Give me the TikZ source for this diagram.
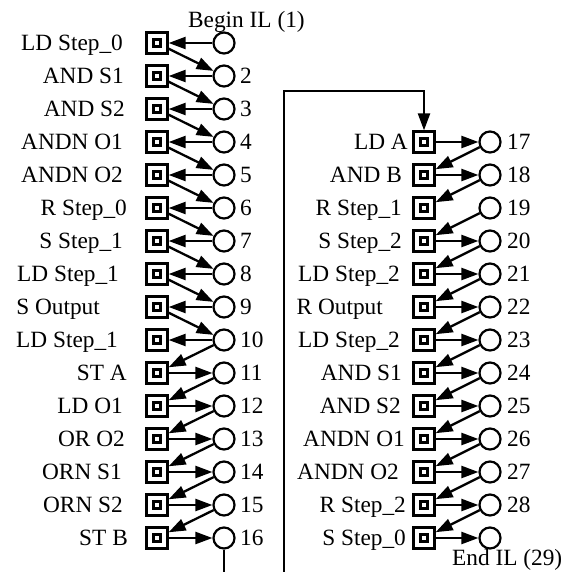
\documentclass[tikz,border=0pt]{standalone}
\usepackage{fontspec}
\setmainfont{Liberation Serif}
\usetikzlibrary{arrows.meta}

\begin{document}
\begin{tikzpicture}[x=1pt,y=-1pt,
  trans/.style={draw,line width=2.3pt,minimum size=21pt,inner sep=0pt,
    path picture={\draw[line width=3.2pt] ([shift={(-3.6pt,-3.6pt)}]path picture bounding box.center) rectangle ([shift={(3.6pt,3.6pt)}]path picture bounding box.center);}},
  place/.style={draw,circle,line width=2.2pt,minimum size=21pt,inner sep=0pt},
  lab/.style={font=\fontsize{23.3}{26}\selectfont,inner sep=0pt},
  flow/.style={line width=2.3pt,-{Triangle[length=17pt,width=12pt]}}]
\clip (0,0) rectangle (578,571);

\foreach \k in {1,...,16} {
  \node[trans] (t\k) at (157,{10+33*\k}) {};
  \node[place] (p\k) at (224,{10+33*\k}) {};
}
\foreach \k in {17,...,29} {
  \node[trans] (t\k) at (424,{33*\k-419}) {};
  \node[place] (p\k) at (490,{33*\k-419}) {};
}

\foreach \k/\lab/\xe in {1/LD Step\_0/123, 2/AND S1/124, 3/AND S2/125, 4/ANDN O1/123, 5/ANDN O2/123, 6/R Step\_0/127, 7/S Step\_1/123, 8/LD Step\_1/119, 9/S Output/100, 10/LD Step\_1/118, 11/ST A/127, 12/LD O1/123, 13/OR O2/125, 14/ORN S1/122, 15/ORN S2/123, 16/ST B/128}
  \node[lab,anchor=base east] (l\k) at (\xe,{17.5+33*\k}) {\lab};
\foreach \k/\lab/\xe in {17/LD A/408, 18/AND B/402, 19/R Step\_1/402, 20/S Step\_2/402, 21/LD Step\_2/400, 22/R Output/383, 23/LD Step\_2/400, 24/AND S1/402, 25/AND S2/401, 26/ANDN O1/405, 27/ANDN O2/399, 28/R Step\_2/406, 29/S Step\_0/406}
  \node[lab,anchor=base east] (l\k) at (\xe,{33*\k-411.5}) {\lab};

\foreach \k in {2,...,16} \node[lab,anchor=base west] (n\k) at (240,{17.5+33*\k}) {\k};
\foreach \k in {17,...,28} \node[lab,anchor=base west] (n\k) at (507,{33*\k-411.5}) {\k};
\node[lab,anchor=base west] (begin) at (188,27) {Begin IL (1)};
\node[lab,anchor=base west] (end) at (452,565) {End IL (29)};

\foreach \k in {1,...,10} \draw[flow] (p\k) -- (t\k);
\foreach \k [evaluate=\k as \n using int(\k+1)] in {1,...,9} \draw[flow] (t\k) -- (p\n);
\draw[flow] (p10) -- (t11);
\foreach \k in {11,...,16} \draw[flow] (t\k) -- (p\k);
\foreach \k [evaluate=\k as \n using int(\k+1)] in {11,...,15} \draw[flow] (p\k) -- (t\n);

\foreach \k in {17,18,20,21,22,23,24,25,26,27,28,29} \draw[flow] (t\k) -- (p\k);
\foreach \k [evaluate=\k as \n using int(\k+1)] in {17,...,28} \draw[flow] (p\k) -- (t\n);

\coordinate (down) at (224,600);
\coordinate (across) at (284,600);
\coordinate (up) at (284,91);
\draw[flow] (p16) -- (down) -- (across) -- (up) -| (t17);
\end{tikzpicture}
\end{document}
